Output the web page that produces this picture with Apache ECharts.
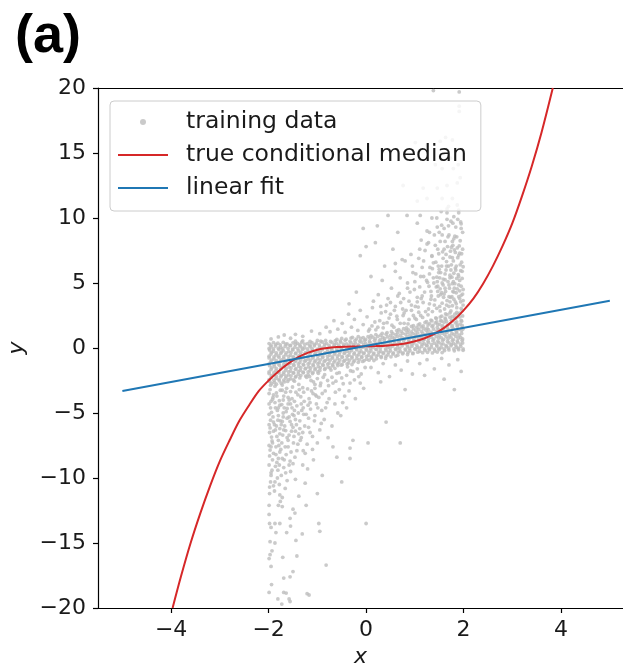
<!DOCTYPE html>
<html><head><meta charset="utf-8">
<script src="https://cdn.jsdelivr.net/npm/echarts@6/dist/echarts.min.js"></script>
<style>html,body{margin:0;padding:0;background:#fff}#c{width:623px;height:666px}</style>
</head><body><div id="c"></div>
<script>
const xTicks = [-4, -2, 0, 2, 4];
const yTicks = [-20, -15, -10, -5, 0, 5, 10, 15, 20];
const legendNames = ['training data', 'true conditional median', 'linear fit'];

// red curve
const medianCurve = [[-3.97,-20],[-3.8,-17.6],[-3.6,-15.0],[-3.4,-12.7],[-3.2,-10.6],[-3.0,-8.7],[-2.8,-7.1],[-2.6,-5.6],[-2.4,-4.4],[-2.2,-3.3],[-2.0,-2.5],[-1.8,-1.8],[-1.6,-1.2],[-1.4,-0.72],[-1.2,-0.38],[-1.0,-0.14],[-0.8,0.0],[-0.6,0.07],[-0.4,0.1],[-0.2,0.12],[0,0.13],[0.2,0.15],[0.4,0.18],[0.6,0.25],[0.8,0.35],[1.0,0.52],[1.2,0.75],[1.4,1.08],[1.6,1.55],[1.8,2.15],[2.0,2.9],[2.2,3.8],[2.4,4.95],[2.6,6.3],[2.8,7.85],[3.0,9.6],[3.2,11.7],[3.4,14.0],[3.6,16.6],[3.83,20]];

// blue line
const linearFit = [[-5,-3.3],[5,3.64]];

// dense band of training data
const trainCore = [
[1.95,3.05],
[1.74,2.85],[1.86,2.74],[1.97,2.9],
[1.63,2.62],[1.72,2.7],[1.82,2.6],[1.92,2.68],
[1.55,2.45],[1.66,2.56],[1.77,2.41],[1.88,2.6],[1.98,2.47],
[1.43,2.32],[1.52,2.38],[1.62,2.3],[1.72,2.37],[1.82,2.33],[1.92,2.39],
[1.33,2.15],[1.44,2.26],[1.53,2.1],[1.63,2.21],[1.75,2.14],[1.84,2.28],[1.95,2.12],
[1.24,2.02],[1.35,2.08],[1.45,2.0],[1.55,2.07],[1.65,2.03],[1.76,2.09],[1.86,2.01],[1.96,2.06],
[1.1,1.85],[1.21,1.96],[1.3,1.88],[1.42,1.93],[1.51,1.82],[1.6,1.98],[1.72,1.86],[1.83,1.94],[1.93,1.84],
[0.97,1.72],[1.07,1.78],[1.17,1.7],[1.27,1.77],[1.37,1.73],[1.47,1.79],[1.57,1.71],[1.67,1.76],[1.77,1.72],[1.87,1.78],[1.97,1.73],
[0.83,1.55],[0.93,1.66],[1.04,1.58],[1.13,1.63],[1.25,1.52],[1.35,1.67],[1.46,1.57],[1.56,1.63],[1.67,1.54],[1.76,1.61],[1.87,1.68],[1.97,1.55],
[0.67,1.42],[0.77,1.48],[0.87,1.4],[0.97,1.47],[1.08,1.43],[1.18,1.49],[1.28,1.41],[1.38,1.46],[1.49,1.42],[1.59,1.48],[1.69,1.4],[1.79,1.47],[1.9,1.43],[1.99,1.48],
[0.52,1.25],[0.63,1.34],[0.72,1.28],[0.82,1.36],[0.93,1.24],[1.02,1.32],[1.14,1.27],[1.23,1.37],[1.33,1.22],[1.44,1.3],[1.55,1.35],[1.64,1.25],[1.74,1.33],[1.85,1.27],[1.96,1.36],
[0.33,1.12],[0.43,1.18],[0.55,1.1],[0.65,1.17],[0.75,1.13],[0.86,1.19],[0.96,1.11],[1.06,1.16],[1.16,1.12],[1.26,1.18],[1.36,1.1],[1.46,1.17],[1.56,1.13],[1.66,1.19],[1.76,1.11],[1.86,1.16],[1.96,1.12],
[0.1,0.95],[0.2,1.03],[0.3,0.98],[0.41,1.06],[0.5,0.96],[0.61,1.03],[0.7,0.97],[0.81,1.07],[0.9,0.99],[1.01,1.04],[1.11,0.94],[1.2,1.02],[1.31,0.98],[1.4,1.06],[1.5,0.97],[1.61,1.03],[1.71,0.95],[1.8,1.05],[1.91,0.99],
[-0.28,0.82],[-0.16,0.88],[-0.06,0.8],[0.04,0.87],[0.14,0.83],[0.24,0.89],[0.34,0.81],[0.44,0.86],[0.54,0.82],[0.64,0.88],[0.74,0.8],[0.84,0.87],[0.94,0.83],[1.04,0.89],[1.14,0.81],[1.24,0.86],[1.34,0.82],[1.44,0.88],[1.54,0.8],[1.64,0.87],[1.74,0.83],[1.84,0.89],[1.94,0.81],
[-0.6,0.66],[-0.5,0.74],[-0.41,0.68],[-0.31,0.76],[-0.2,0.69],[-0.11,0.73],[-0.01,0.66],[0.08,0.75],[0.19,0.7],[0.29,0.65],[0.38,0.74],[0.49,0.69],[0.58,0.76],[0.69,0.67],[0.79,0.72],[0.88,0.65],[0.99,0.75],[1.08,0.7],[1.19,0.66],[1.28,0.74],[1.39,0.69],[1.49,0.76],[1.59,0.67],[1.68,0.72],[1.79,0.65],[1.89,0.75],[1.98,0.7],
[-0.93,0.52],[-0.83,0.58],[-0.73,0.5],[-0.63,0.57],[-0.53,0.53],[-0.43,0.59],[-0.33,0.51],[-0.23,0.56],[-0.13,0.52],[-0.03,0.58],[0.07,0.5],[0.17,0.57],[0.27,0.53],[0.37,0.59],[0.47,0.51],[0.57,0.56],[0.67,0.52],[0.77,0.58],[0.87,0.5],[0.97,0.57],[1.07,0.53],[1.17,0.59],[1.27,0.51],[1.37,0.56],[1.47,0.52],[1.57,0.58],[1.67,0.5],[1.77,0.57],[1.87,0.53],[1.97,0.59],
[-1.45,0.52],[-1.3,0.55],[-1.15,0.5],[-1.0,0.58],
[-1.99,0.34],[-1.9,0.42],[-1.81,0.37],[-1.7,0.44],[-1.62,0.31],[-1.5,0.4],[-1.41,0.36],[-1.32,0.45],[-1.2,0.33],[-1.11,0.41],[-1.02,0.38],[-0.9,0.46],[-0.81,0.34],[-0.7,0.43],[-0.61,0.37],[-0.52,0.45],[-0.4,0.32],[-0.31,0.41],[-0.22,0.38],[-0.1,0.46],[-0.01,0.35],[0.08,0.43],[0.2,0.37],[0.29,0.44],[0.38,0.32],[0.5,0.41],[0.59,0.36],[0.68,0.45],[0.8,0.33],[0.89,0.42],[0.98,0.38],[1.1,0.46],[1.19,0.34],[1.28,0.43],[1.4,0.37],[1.49,0.44],[1.58,0.31],[1.7,0.4],[1.79,0.36],[1.88,0.45],[1.98,0.39],
[-1.95,0.22],[-1.85,0.28],[-1.76,0.24],[-1.65,0.3],[-1.56,0.2],[-1.45,0.27],[-1.36,0.23],[-1.26,0.29],[-1.15,0.21],[-1.06,0.26],[-0.96,0.24],[-0.85,0.3],[-0.76,0.2],[-0.65,0.27],[-0.56,0.22],[-0.46,0.29],[-0.35,0.21],[-0.26,0.26],[-0.16,0.24],[-0.05,0.3],[0.04,0.2],[0.14,0.27],[0.25,0.23],[0.34,0.29],[0.44,0.21],[0.55,0.26],[0.64,0.24],[0.74,0.3],[0.85,0.2],[0.94,0.27],[1.04,0.22],[1.15,0.29],[1.24,0.21],[1.34,0.26],[1.45,0.24],[1.54,0.3],[1.64,0.2],[1.75,0.27],[1.84,0.23],[1.94,0.29],
[-1.95,0.08],[-1.86,0.15],[-1.75,0.04],[-1.66,0.12],[-1.55,0.18],[-1.46,0.06],[-1.35,0.14],[-1.26,0.02],[-1.15,0.11],[-1.06,0.17],[-0.95,0.07],[-0.86,0.13],[-0.75,0.03],[-0.66,0.16],[-0.55,0.09],[-0.46,0.14],[-0.35,0.05],[-0.26,0.12],[-0.15,0.18],[-0.06,0.07],[0.05,0.15],[0.14,0.04],[0.25,0.11],[0.34,0.17],[0.45,0.06],[0.54,0.13],[0.65,0.02],[0.74,0.16],[0.85,0.09],[0.94,0.14],[1.05,0.05],[1.14,0.12],[1.25,0.18],[1.34,0.07],[1.45,0.15],[1.54,0.04],[1.65,0.11],[1.74,0.17],[1.85,0.06],[1.94,0.13],
[-1.99,-0.04],[-1.9,-0.07],[-1.8,-0.02],[-1.71,-0.06],[-1.6,-0.03],[-1.51,-0.08],[-1.4,-0.05],[-1.31,-0.02],[-1.2,-0.07],[-1.11,-0.04],[-1.0,-0.08],[-0.91,-0.03],[-0.8,-0.06],[-0.71,-0.02],[-0.6,-0.07],[-0.51,-0.04],[-0.4,-0.08],[-0.31,-0.03],[-0.2,-0.06],[-0.11,-0.02],[0.0,-0.07],[0.09,-0.04],[0.2,-0.08],[0.29,-0.03],[0.4,-0.06],[0.49,-0.02],[0.6,-0.07],[0.69,-0.04],[0.8,-0.08],[0.89,-0.03],[1.0,-0.06],[1.09,-0.02],[1.2,-0.07],[1.29,-0.04],[1.4,-0.08],[1.49,-0.03],[1.6,-0.06],[1.69,-0.02],[1.8,-0.07],[1.89,-0.04],[1.99,-0.06],
[-1.98,-0.16],[-1.9,-0.25],[-1.79,-0.12],[-1.7,-0.22],[-1.59,-0.28],[-1.5,-0.15],[-1.39,-0.21],[-1.3,-0.11],[-1.19,-0.26],[-1.1,-0.18],[-0.99,-0.23],[-0.9,-0.13],[-0.79,-0.27],[-0.7,-0.17],[-0.59,-0.22],[-0.5,-0.12],[-0.39,-0.25],[-0.3,-0.19],[-0.19,-0.14],[-0.1,-0.28],[0.01,-0.17],[0.1,-0.23],[0.21,-0.12],[0.3,-0.26],[0.41,-0.18],[0.5,-0.22],[0.61,-0.13],[0.7,-0.27],[0.81,-0.16],[0.9,-0.21],[1.01,-0.11],[1.1,-0.25],[1.21,-0.18],[1.3,-0.14],[1.41,-0.23],[1.5,-0.12],[1.61,-0.2],[1.7,-0.15],[1.81,-0.22],[1.9,-0.13],[1.99,-0.18],
[-1.94,-0.33],[-1.84,-0.38],[-1.74,-0.31],[-1.64,-0.37],[-1.54,-0.34],[-1.44,-0.39],[-1.34,-0.32],[-1.24,-0.36],[-1.14,-0.33],[-1.04,-0.38],[-0.94,-0.31],[-0.84,-0.37],[-0.74,-0.34],[-0.64,-0.39],[-0.54,-0.32],[-0.44,-0.36],[-0.34,-0.33],[-0.24,-0.38],[-0.14,-0.31],[-0.04,-0.37],[0.06,-0.34],[0.16,-0.39],[0.26,-0.32],[0.36,-0.36],[0.46,-0.33],[0.56,-0.38],[0.66,-0.31],[0.76,-0.37],[0.86,-0.34],[0.96,-0.39],[1.06,-0.32],[1.16,-0.36],[1.26,-0.33],[1.36,-0.38],[1.46,-0.31],[1.56,-0.35],
[-1.95,-0.46],[-1.85,-0.54],[-1.75,-0.42],[-1.65,-0.51],[-1.55,-0.57],[-1.45,-0.44],[-1.35,-0.52],[-1.25,-0.41],[-1.15,-0.55],[-1.05,-0.47],[-0.95,-0.53],[-0.85,-0.43],[-0.75,-0.56],[-0.65,-0.48],[-0.55,-0.52],[-0.45,-0.42],[-0.35,-0.55],[-0.25,-0.47],[-0.15,-0.51],[-0.05,-0.44],[0.05,-0.56],[0.15,-0.48],[0.25,-0.53],[0.35,-0.43],[0.45,-0.52],[0.55,-0.46],[0.65,-0.55],[0.75,-0.45],[0.85,-0.5],[0.96,-0.44],
[-1.99,-0.63],[-1.89,-0.68],[-1.79,-0.61],[-1.69,-0.67],[-1.59,-0.64],[-1.49,-0.69],[-1.39,-0.62],[-1.29,-0.66],[-1.19,-0.63],[-1.09,-0.68],[-0.99,-0.61],[-0.89,-0.67],[-0.79,-0.64],[-0.69,-0.69],[-0.59,-0.62],[-0.49,-0.66],[-0.39,-0.63],[-0.29,-0.68],[-0.19,-0.61],[-0.09,-0.67],[0.01,-0.64],[0.11,-0.69],[0.21,-0.62],[0.31,-0.66],[0.41,-0.63],[0.51,-0.68],[0.61,-0.62],
[-1.99,-0.76],[-1.89,-0.84],[-1.79,-0.72],[-1.69,-0.81],[-1.59,-0.87],[-1.49,-0.74],[-1.39,-0.82],[-1.29,-0.71],[-1.19,-0.85],[-1.09,-0.77],[-0.99,-0.83],[-0.89,-0.73],[-0.79,-0.86],[-0.69,-0.78],[-0.59,-0.82],[-0.49,-0.72],[-0.39,-0.85],[-0.29,-0.77],[-0.19,-0.81],[-0.09,-0.74],[0.01,-0.86],[0.11,-0.78],[0.21,-0.83],[0.31,-0.73],[0.4,-0.8],
[-1.94,-0.93],[-1.84,-0.98],[-1.74,-0.91],[-1.64,-0.97],[-1.54,-0.94],[-1.44,-0.99],[-1.34,-0.92],[-1.24,-0.96],[-1.14,-0.93],[-1.04,-0.98],[-0.94,-0.91],[-0.84,-0.97],[-0.74,-0.94],[-0.64,-0.99],[-0.54,-0.92],[-0.44,-0.96],[-0.34,-0.93],[-0.24,-0.98],[-0.14,-0.91],[-0.04,-0.97],[0.06,-0.94],[0.16,-0.96],
[-1.96,-1.06],[-1.86,-1.14],[-1.76,-1.02],[-1.66,-1.11],[-1.56,-1.17],[-1.46,-1.04],[-1.36,-1.12],[-1.26,-1.01],[-1.16,-1.15],[-1.06,-1.07],[-0.96,-1.13],[-0.86,-1.03],[-0.76,-1.16],[-0.66,-1.08],[-0.56,-1.12],[-0.46,-1.02],[-0.36,-1.15],[-0.26,-1.07],[-0.16,-1.1],[-0.07,-1.03],
[-1.99,-1.23],[-1.89,-1.28],[-1.79,-1.21],[-1.69,-1.27],[-1.59,-1.24],[-1.49,-1.29],[-1.39,-1.22],[-1.29,-1.26],[-1.19,-1.23],[-1.09,-1.28],[-0.99,-1.21],[-0.89,-1.27],[-0.79,-1.24],[-0.69,-1.29],[-0.59,-1.22],[-0.49,-1.26],[-0.39,-1.23],[-0.29,-1.27],
[-1.98,-1.36],[-1.88,-1.44],[-1.78,-1.32],[-1.68,-1.41],[-1.58,-1.47],[-1.48,-1.34],[-1.38,-1.42],[-1.28,-1.31],[-1.18,-1.45],[-1.08,-1.37],[-0.98,-1.43],[-0.88,-1.33],[-0.78,-1.46],[-0.68,-1.38],[-0.58,-1.35],[-0.51,-1.32],
[-1.94,-1.53],[-1.84,-1.58],[-1.74,-1.51],[-1.64,-1.57],[-1.54,-1.54],[-1.44,-1.59],[-1.34,-1.52],[-1.24,-1.56],[-1.14,-1.53],[-1.04,-1.58],[-0.94,-1.51],[-0.84,-1.57],[-0.74,-1.54],[-0.64,-1.56],
[-1.95,-1.66],[-1.85,-1.74],[-1.75,-1.62],[-1.65,-1.71],[-1.55,-1.77],[-1.45,-1.64],[-1.35,-1.72],[-1.25,-1.61],[-1.15,-1.75],[-1.05,-1.67],[-0.95,-1.73],[-0.85,-1.65],
[-1.99,-1.83],[-1.89,-1.88],[-1.79,-1.81],[-1.69,-1.87],[-1.59,-1.84],[-1.49,-1.89],[-1.39,-1.82],[-1.29,-1.86],[-1.19,-1.83],[-1.09,-1.88],[-0.99,-1.82],
[-1.99,-1.96],[-1.89,-2.04],[-1.79,-1.92],[-1.69,-2.01],[-1.59,-2.07],[-1.49,-1.94],[-1.39,-2.02],[-1.29,-1.91],[-1.19,-2.05],[-1.1,-1.97],
[-1.94,-2.13],[-1.84,-2.18],[-1.74,-2.11],[-1.64,-2.17],[-1.54,-2.14],[-1.44,-2.19],[-1.34,-2.12],[-1.24,-2.16],
[-1.95,-2.26],[-1.85,-2.34],[-1.75,-2.22],[-1.65,-2.31],[-1.55,-2.37],[-1.45,-2.24],[-1.36,-2.3],
[-1.99,-2.43],[-1.89,-2.48],[-1.79,-2.41],[-1.69,-2.47],[-1.59,-2.44],[-1.49,-2.46],
[-1.98,-2.56],[-1.88,-2.64],[-1.78,-2.52],[-1.68,-2.61],[-1.61,-2.57],
[-1.94,-2.73],[-1.84,-2.78],[-1.74,-2.71],
[-1.96,-2.86],[-1.87,-2.94]
];

// upper tail (mostly x > 0)
const trainUpper = [
[-0.95,1.1],[-0.82,1.6],[-0.74,1.25],[-0.66,2.1],[-0.58,1.45],[-0.49,1.9],[-0.43,1.2],[-0.36,2.6],[-0.3,1.6],[-0.24,2.2],[-0.17,1.35],[-0.12,2.9],[-0.06,1.8],[0.02,2.4],[0.07,1.45],[0.13,3.1],[0.18,2.0],[0.24,1.6],[0.31,2.7],[0.36,1.9],[0.42,3.3],[0.47,2.3],[0.53,1.75],[0.58,2.9],[0.64,2.2],[0.71,3.5],[0.76,2.5],[-1.3,0.9],[-1.55,0.75],[-1.8,0.85],[-1.12,1.3],[-1.45,1.05],[-1.95,0.7],[-1.68,1.0],
[0.05,1.3],[0.12,1.7],[0.2,1.4],[0.28,2.1],[0.35,1.55],[0.43,1.95],[0.5,2.6],[0.57,1.6],[0.63,2.45],[0.7,1.9],[0.78,2.7],[0.86,1.85],[0.93,2.9],[1.0,2.3],[1.08,2.75],[1.16,2.35],[0.4,2.8],[0.6,3.2],[0.75,3.0],[0.88,3.6],[1.01,3.2],[1.13,3.8],[0.5,3.5],[0.3,3.2],[0.65,4.0],[0.85,4.6],[1.0,5.1],[1.12,5.5],[0.7,5.4],[0.95,6.3],[1.18,6.7],[0.92,7.2],[1.25,9.0],[1.05,9.6],[1.35,10.0],[0.6,6.5],
[0.78,1.9],[0.88,2.2],[0.97,2.5],[0.82,2.9],[0.93,3.3],[0.77,3.8],[0.9,4.3],[0.85,5.0],[0.96,5.8],[0.8,6.7],
[1.03,2.2],[1.12,2.5],[1.22,2.8],[1.07,3.15],[1.17,3.5],[1.05,3.9],[1.2,4.3],[1.1,4.7],[1.24,5.2],[1.02,5.7],[1.15,6.2],[1.08,6.9],[1.21,7.5],[1.13,8.3],
[1.05,3.55],[1.15,4.0],[0.99,4.5],[1.18,5.5],[1.1,7.6],
[1.27,2.55],[1.36,2.8],[1.45,3.05],[1.3,3.4],[1.41,3.7],[1.48,4.0],[1.33,4.35],[1.44,4.7],[1.26,5.05],[1.38,5.4],[1.49,5.8],[1.31,6.2],[1.43,6.6],[1.35,7.1],[1.47,7.6],[1.28,8.1],[1.4,8.7],[1.46,9.3],[1.34,4.0],[1.46,5.1],
[1.28,3.0],[1.4,3.3],[1.33,3.75],[1.47,4.35],[1.29,4.75],[1.39,5.0],[1.48,6.3],[1.3,5.7],[1.42,7.9],[1.36,6.1],
[1.52,2.85],[1.61,3.0],[1.7,3.2],[1.56,3.45],[1.66,3.65],[1.73,3.9],[1.53,4.1],[1.63,4.35],[1.71,4.6],[1.58,4.85],[1.68,5.1],[1.51,5.4],[1.62,5.7],[1.74,6.0],[1.55,6.3],[1.65,6.65],[1.72,7.0],[1.57,7.4],[1.67,7.8],[1.52,8.2],[1.7,8.7],[1.6,9.2],[1.66,9.9],[1.54,10.5],[1.59,3.9],[1.72,5.4],[1.64,6.0],[1.56,5.0],
[1.51,3.2],[1.65,3.3],[1.72,3.55],[1.6,4.15],[1.52,4.55],[1.7,4.85],[1.62,5.25],[1.53,5.8],[1.69,6.3],[1.58,6.9],[1.73,7.45],[1.64,7.2],[1.56,8.7],[1.69,9.4],[1.62,8.2],
[1.77,3.25],[1.85,3.4],[1.94,3.55],[1.8,3.75],[1.9,3.95],[1.98,4.15],[1.78,4.35],[1.87,4.55],[1.95,4.75],[1.82,4.95],[1.92,5.2],[1.76,5.45],[1.89,5.65],[1.97,5.9],[1.83,6.15],[1.93,6.4],[1.79,6.7],[1.88,6.95],[1.96,7.25],[1.81,7.55],[1.91,7.85],[1.77,8.2],[1.86,8.55],[1.98,8.9],[1.84,9.3],[1.94,9.7],[1.8,10.1],[1.9,10.6],[1.99,3.3],[1.86,3.1],[1.79,5.1],[1.96,6.6],[1.87,7.7],[1.92,4.4],[1.75,6.4],
[1.99,3.65],[1.83,3.55],[1.76,3.95],[1.95,4.05],[1.85,4.25],[1.99,4.5],[1.81,4.6],[1.9,4.85],[1.77,4.95],[1.97,5.35],[1.86,5.35],[1.8,5.75],[1.94,5.95],[1.85,6.3],[1.99,6.25],[1.77,6.95],[1.9,7.15],[1.83,7.35],[1.98,7.6],[1.78,7.9],[1.93,8.25],[1.82,8.6],[1.95,9.2],[1.88,9.9],[1.78,9.6],
[1.92,3.8],[1.8,4.3],[1.7,3.95],[1.62,4.6],[1.55,4.25],[1.47,4.75],[1.9,5.5],[1.72,5.6],[1.58,5.3],[1.45,5.45],[1.84,6.0],[1.65,6.3],[1.5,6.05],[1.38,6.55],[1.92,7.3],[1.75,7.75],[1.6,7.6],[1.49,7.25],[1.35,7.05],[1.8,8.4],[1.68,8.55],[1.5,8.9],[1.95,9.55],[1.74,9.75],[1.55,9.45],[1.9,10.4],[1.66,10.7],[1.45,10.0],[1.3,8.9],[1.25,8.0],
[0.25,4.1],[0.33,5.2],[0.45,3.8],[0.52,4.6],[0.6,5.9],[0.68,4.2],[0.74,6.8],[0.15,3.6],[0.38,6.3],[0.23,9.4],[-0.06,9.2],[0.19,8.1],[0.0,7.8],[-0.12,7.1],[0.1,5.5],[-0.2,4.3],[-0.35,3.4],[0.55,7.6],[0.65,8.9],
[1.38,19.8],[1.91,19.7],[1.91,18.6],[1.91,18.2],[1.01,15.8],[1.25,15.6],[1.52,15.9],[1.63,16.2],[1.77,16.0],[1.42,14.1],[1.56,13.8],[1.79,13.8],[1.89,14.1],[1.73,14.6],[1.93,13.1],[1.87,12.7],[1.66,12.5],[1.46,12.3],[1.17,12.3],[0.76,12.5],[1.25,11.5],[1.05,11.3],[1.56,11.5],[1.77,11.5],[1.87,11.0],[1.69,10.9],[0.45,10.2],[0.84,10.2],[1.66,10.4],[1.11,10.2]
];

// lower tail (mostly x < 0)
const trainLower = [
[-1.97,-3.2],[-1.84,-3.45],[-1.91,-3.8],[-1.78,-4.05],[-1.99,-4.3],[-1.86,-4.6],[-1.94,-4.95],[-1.8,-5.2],[-1.96,-5.55],[-1.88,-5.9],[-1.77,-6.2],[-1.98,-6.5],[-1.83,-6.8],[-1.93,-7.15],[-1.79,-7.5],[-1.97,-7.85],[-1.85,-8.2],[-1.92,-8.6],[-1.99,-9.0],[-1.81,-9.4],[-1.95,-9.8],[-1.87,-10.3],[-1.98,-10.7],[-1.9,-3.6],[-1.76,-3.25],[-1.95,-4.1],[-1.82,-4.8],[-1.99,-5.9],[-1.9,-6.4],[-1.76,-5.6],[-1.95,-7.6],[-1.86,-9.1],
[-1.99,-3.5],[-1.83,-3.7],[-1.77,-4.4],[-1.96,-4.6],[-1.87,-4.2],[-1.99,-5.1],[-1.81,-5.55],[-1.91,-5.3],[-1.77,-6.6],[-1.97,-6.15],[-1.86,-6.3],[-1.8,-7.1],[-1.94,-6.85],[-1.85,-7.6],[-1.99,-7.5],[-1.77,-8.0],[-1.9,-8.1],[-1.83,-8.8],[-1.98,-8.3],[-1.78,-9.0],[-1.93,-9.4],[-1.82,-10.0],[-1.96,-10.3],[-1.88,-11.0],[-1.78,-10.5],
[-1.92,-3.95],[-1.8,-4.6],[-1.7,-4.0],[-1.62,-4.65],[-1.55,-4.3],[-1.47,-4.8],[-1.9,-5.7],[-1.72,-5.65],[-1.58,-5.3],[-1.45,-5.5],[-1.84,-6.0],[-1.65,-6.35],[-1.5,-6.1],[-1.38,-6.6],[-1.92,-7.3],[-1.75,-7.8],[-1.6,-7.6],[-1.49,-7.3],[-1.35,-7.1],[-1.8,-8.5],[-1.68,-8.6],[-1.5,-8.9],[-1.95,-9.6],[-1.74,-9.8],[-1.55,-9.5],[-1.9,-10.6],[-1.66,-10.8],[-1.45,-10.1],[-1.3,-9.0],[-1.25,-8.1],
[-1.72,-2.85],[-1.63,-3.1],[-1.55,-3.35],[-1.69,-3.7],[-1.58,-4.0],[-1.73,-4.35],[-1.52,-4.6],[-1.64,-4.9],[-1.7,-5.3],[-1.56,-5.65],[-1.67,-6.0],[-1.53,-6.4],[-1.71,-6.7],[-1.6,-7.1],[-1.66,-7.6],[-1.54,-8.0],[-1.72,-8.5],[-1.58,-9.0],[-1.65,-9.6],[-1.6,-3.8],[-1.74,-5.9],[-1.51,-5.1],[-1.62,-6.9],[-1.68,-4.6],
[-1.51,-3.0],[-1.65,-3.4],[-1.72,-3.25],[-1.6,-4.3],[-1.52,-3.9],[-1.7,-5.0],[-1.62,-5.4],[-1.53,-5.9],[-1.69,-6.3],[-1.58,-6.7],[-1.73,-7.3],[-1.64,-8.2],[-1.56,-8.7],[-1.69,-9.2],[-1.62,-10.2],
[-1.47,-2.55],[-1.38,-2.8],[-1.3,-3.05],[-1.44,-3.4],[-1.34,-3.75],[-1.27,-4.1],[-1.42,-4.45],[-1.32,-4.8],[-1.48,-5.2],[-1.36,-5.6],[-1.26,-6.0],[-1.45,-6.4],[-1.33,-6.9],[-1.4,-7.4],[-1.29,-7.9],[-1.46,-8.4],[-1.37,-3.2],[-1.28,-5.1],[-1.43,-5.9],
[-1.28,-3.4],[-1.4,-3.6],[-1.33,-4.3],[-1.47,-4.1],[-1.29,-4.6],[-1.39,-5.0],[-1.48,-6.8],[-1.3,-6.5],[-1.42,-7.9],[-1.36,-6.2],
[-1.22,-2.25],[-1.13,-2.5],[-1.05,-2.8],[-1.2,-3.15],[-1.09,-3.5],[-1.17,-3.9],[-1.02,-4.3],[-1.14,-4.7],[-1.23,-5.1],[-1.06,-5.6],[-1.18,-6.1],[-1.1,-6.8],[-1.21,-7.4],[-1.04,-3.6],
[-1.05,-3.1],[-1.15,-4.2],[-0.99,-4.6],[-1.18,-5.4],[-1.1,-7.8],
[-1.16,-2.2],[-1.08,-2.6],[-1.0,-2.35],[-0.93,-2.7],[-0.85,-2.05],[-0.77,-2.9],[-0.7,-2.25],[-0.62,-2.55],[-0.55,-1.9],[-0.47,-2.75],[-0.4,-2.1],[-0.32,-1.75],[-0.24,-2.45],[-0.18,-1.6],[-0.1,-2.0],[-0.02,-1.5],[-1.12,-3.3],[-1.02,-3.7],[-0.9,-3.5],[-0.76,-3.9],[-0.63,-3.4],[-0.48,-4.2],[-0.35,-3.3],[-0.12,-2.7],[-1.19,-4.4],[-0.83,-4.6],[-0.58,-5.0],[-0.4,-4.6],[-1.05,-5.2],[-0.92,-5.8],[-1.15,-6.5],[-0.78,-6.9],[-1.0,-7.3],[-0.68,-7.6],[-1.08,-8.6],[-1.2,-9.3],[-0.9,-9.8],[-1.25,-10.4],
[-0.98,-1.95],[-0.88,-2.25],[-0.79,-2.5],[-0.94,-2.9],[-0.84,-3.3],[-0.97,-3.8],[-0.8,-4.2],[-0.91,-4.8],[-0.86,-5.5],[-0.95,-6.3],
[-0.72,-1.7],[-0.6,-1.95],[-0.5,-2.3],[-0.68,-2.7],[-0.55,-3.2],[-0.44,-3.7],[-0.64,-4.3],[-0.52,-5.2],[-0.7,-6.0],
[-0.38,-1.45],[-0.27,-1.8],[-0.15,-2.2],[-0.33,-2.7],[-0.05,-3.1],[-0.22,-3.9],
[-0.27,-7.1],[-0.33,-7.7],[-0.33,-8.5],[-0.6,-8.4],[-0.5,-10.3],
[-1.98,-11.2],[-1.77,-11.3],[-1.72,-11.5],[-1.38,-11.4],[-1.0,-11.2],[-1.99,-12.1],[-1.8,-12.1],[-1.76,-11.8],[-1.72,-12.2],[-1.5,-12.4],[-1.46,-12.7],[-1.23,-12.1],[-1.99,-12.8],[-1.56,-13.1],[-1.98,-13.5],[-1.87,-13.5],[-1.77,-13.5],[-1.55,-13.7],[-0.97,-13.5],[-1.95,-13.8],[-1.85,-14.2],[-1.63,-14.2],[-1.31,-14.3],[-0.95,-14.1],[-1.97,-14.9],[-1.87,-15.0],[-1.44,-14.8],[-1.93,-15.6],[-1.99,-16.2],[-1.97,-15.9],[-1.71,-16.1],[-1.42,-16.0],[-0.82,-16.7],[-1.95,-16.8],[-1.5,-17.2],[-1.56,-17.6],[-1.69,-17.7],[-1.94,-18.2],[-1.99,-18.8],[-1.69,-18.8],[-1.21,-18.9],[-1.81,-19.3],[-1.58,-19.3],[-1.73,-19.7],[-1.64,-18.85],[-1.17,-19.0],[-1.56,-19.5]
];

// sparse points on the opposite side of the band
const trainSparse = [
[0.1,-1.5],[0.25,-1.9],[0.35,-1.2],[0.48,-2.2],[0.6,-1.3],[0.72,-1.7],[0.85,-1.0],[0.95,-2.0],[1.1,-1.2],[1.25,-0.9],[1.4,-1.6],[1.55,-0.8],[1.7,-1.3],[1.88,-0.9],[1.95,-1.8],[0.8,-3.2],[1.81,-3.2],[0.41,-5.7],[0.04,-7.3],[0.7,-7.3],[0.0,-13.5],[0.3,-2.6],[1.2,-2.1],[1.6,-2.4]
];

const fmt = v => v < 0 ? '\u2212' + Math.abs(v) : String(v);
const tickFont = {fontFamily: 'DejaVu Sans', fontSize: 22, color: '#1a1a1a'};
const spine = {show: true, onZero: false, lineStyle: {color: '#000', width: 1.2}};
const nameFont = {fontFamily: 'DejaVu Sans', fontStyle: 'italic', fontSize: 22, color: '#1a1a1a'};

const chart = echarts.init(document.getElementById('c'), null, {renderer: 'canvas'});
chart.setOption({
  animation: false,
  backgroundColor: '#fff',
  title: {text: '(a)', left: 10, top: 5, textStyle: {fontFamily: 'Liberation Sans', fontWeight: 'bold', fontSize: 54, color: '#000'}},
  grid: {left: 98, top: 88, right: 0, height: 520, show: false, containLabel: false, outerBoundsMode: 'none'},
  xAxis: [{
    type: 'value', min: -5.5, max: 5.27, position: 'bottom',
    name: 'x', nameLocation: 'middle', nameGap: 31, nameTextStyle: nameFont,
    axisLine: spine, splitLine: {show: false},
    axisTick: {show: true, length: 5, lineStyle: {color: '#000', width: 1.2}, customValues: xTicks},
    axisLabel: Object.assign({customValues: xTicks, formatter: fmt, margin: 11}, tickFont)
  }, {
    type: 'value', min: -5.5, max: 5.27, position: 'top',
    axisLine: spine, splitLine: {show: false}, axisTick: {show: false}, axisLabel: {show: false}
  }],
  yAxis: {
    type: 'value', min: -20, max: 20,
    name: 'y', nameLocation: 'middle', nameGap: 67, nameTextStyle: nameFont,
    axisLine: spine, splitLine: {show: false},
    axisTick: {show: true, length: 5, lineStyle: {color: '#000', width: 1.2}, customValues: yTicks},
    axisLabel: Object.assign({customValues: yTicks, formatter: fmt, margin: 12}, tickFont)
  },
  legend: {
    left: 110, top: 101, orient: 'vertical',
    itemWidth: 50, itemHeight: 6, itemGap: 7,
    padding: [8, 14, 10, 7],
    backgroundColor: 'rgba(255,255,255,0.8)', borderColor: '#cccccc', borderWidth: 1, borderRadius: 4,
    textStyle: {fontFamily: 'DejaVu Sans', fontSize: 23.5, color: '#1a1a1a', lineHeight: 26, padding: [0, 0, 0, 13]},
    data: [
      {name: legendNames[0], icon: 'circle'},
      {name: legendNames[1], itemStyle: {opacity: 0}},
      {name: legendNames[2], itemStyle: {opacity: 0}}
    ]
  },
  series: [
    {type: 'scatter', name: legendNames[0], data: [].concat(trainCore, trainUpper, trainLower, trainSparse),
     symbolSize: 3.8, itemStyle: {color: '#bdbdbd'}, z: 1, silent: true},
    {type: 'line', name: legendNames[1], data: medianCurve, symbol: 'none', smooth: 0.3,
     lineStyle: {color: '#d62728', width: 2}, itemStyle: {color: '#d62728'}, z: 3, silent: true},
    {type: 'line', name: legendNames[2], data: linearFit, symbol: 'none',
     lineStyle: {color: '#1f77b4', width: 2}, itemStyle: {color: '#1f77b4'}, z: 4, silent: true}
  ]
});
</script>
</body></html>
